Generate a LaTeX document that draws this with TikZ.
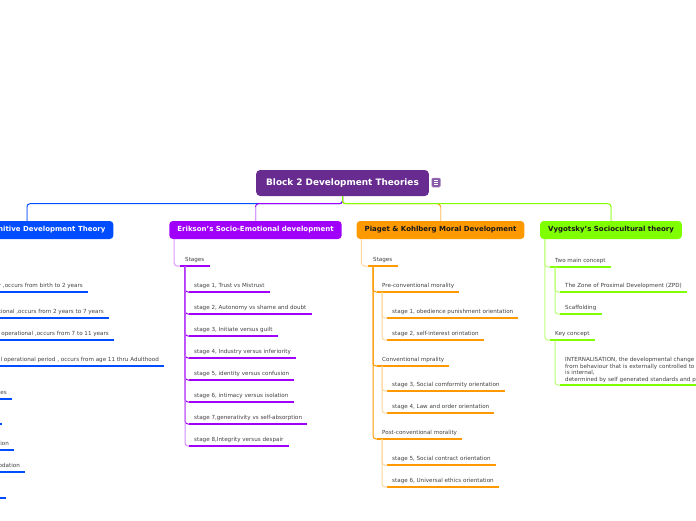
\documentclass[tikz,border=0pt]{standalone}
\usepackage{fontspec}
\setmainfont{DejaVu Sans}
\definecolor{cRoot}{RGB}{104,44,145}
\definecolor{cBlue}{RGB}{0,76,255}
\definecolor{cPur}{RGB}{160,0,250}
\definecolor{cOra}{RGB}{255,153,0}
\definecolor{cGre}{RGB}{128,255,0}
\definecolor{cTxt}{RGB}{64,64,64}
\tikzset{
  rootbox/.style={fill=cRoot, text=white, rounded corners=4pt, font=\bfseries\fontsize{8.9}{10}\selectfont, minimum height=26pt, inner xsep=10pt, inner ysep=0pt},
  mainbox/.style={rounded corners=3.5pt, font=\bfseries\fontsize{7}{8}\selectfont, minimum height=18pt, inner xsep=8pt, inner ysep=0pt},
  topic/.style={font=\fontsize{5.6}{6.7}\selectfont, text=cTxt, inner sep=0pt, anchor=base west},
  ul/.style={line width=2.2pt},
  topc/.style={line width=1pt, rounded corners=3pt},
  conn/.style={line width=1pt, rounded corners=3pt},
}
\newcommand\tp[5]{%
  \node[topic] (#1) at ({#2},{#3-5}) {#4};
  \coordinate (#1-ul) at ({#2-5},{#3});
  \coordinate (#1-v) at ({#2},{#3});
  \draw[ul,#5] (#1-ul) -- ([xshift=5pt,yshift=-5pt]#1.base east);
}
\newcommand\tpr[5]{%
  \node[topic, anchor=base east] (#1) at ({#2-5},{#3-5}) {#4};
  \coordinate (#1-ul) at (-20,{#3});
  \draw[ul,#5] (#1-ul) -- ({#2},{#3});
}
\begin{document}
\begin{tikzpicture}[x=1pt,y=-1pt]
\useasboundingbox (0,0) rectangle (696,520);
\clip (0,0) rectangle (696,520);

% root and main branches
\node[rootbox] (root) at (342.5,183) {Block 2 Development Theories};
\node[fill=cRoot!80!white, draw=cRoot!55!white, line width=0.5pt, rounded corners=1pt, minimum width=8.5pt, minimum height=9pt, inner sep=0pt] (note) at (436,182.5) {};
\foreach \dy in {-2.2,0,2.2}
  \draw[white, line width=0.6pt] ([xshift=-2.2pt,yshift=\dy pt]note.center) -- ([xshift=2.2pt,yshift=\dy pt]note.center);

\node[mainbox, fill=cBlue, text=white] (blue) at (27,230) {Piaget's Cognitive Development Theory};
\node[mainbox, fill=cPur, text=white] (purple) at (255.5,230) {Erikson's Socio-Emotional development};
\node[mainbox, fill=cOra, text=black!90] (orange) at (440.5,230) {Piaget \& Kohlberg Moral Development};
\node[mainbox, fill=cGre, text=black!90] (green) at (611,230) {Vygotsky's Sociocultural theory};

\draw[topc, cBlue] (root.south) -- ++(0,7.5) -| (blue.north);
\draw[line width=1pt, cBlue!50] (blue.north) -- ++(0,-14);
\draw[topc, cPur] (root.south) -- ++(0,7.5) -| (purple.north);
\draw[line width=1pt, cPur!40] (purple.north) -- ++(0,-14);
\draw[topc, cOra] (root.south) -- ++(0,7.5) -| (orange.north);
\draw[line width=1pt, cOra!45] (orange.north) -- ++(0,-14);
\draw[topc, cGre] (root.south) -- ++(0,7.5) -| (green.north);
\draw[line width=1pt, cGre!50] (green.north) -- ++(0,-14);

% ---- blue (Piaget cognitive), clipped at left edge
\tpr{b1}{88}{292}{Sensorimotor ,occurs from birth to 2 years}{cBlue}
\tpr{b2}{109}{318}{Preoperational ,occurs from 2 years to 7 years}{cBlue}
\tpr{b3}{114}{340}{Concrete operational ,occurs from 7 to 11 years}{cBlue}
\tpr{b4}{164}{366}{Formal operational period , occurs from age 11 thru Adulthood}{cBlue}
\tpr{b5}{12}{399}{Schemes}{cBlue}
\coordinate (b6-ul) at (-20,424);
\draw[ul,cBlue] (b6-ul) -- (1.5,424);
\tpr{b7}{14}{450}{Assimilation}{cBlue}
\tpr{b8}{25}{472}{Accommodation}{cBlue}
\coordinate (b9-ul) at (-20,498);
\draw[ul,cBlue] (b9-ul) -- (6,498);

% ---- purple (Erikson)
\tp{pstg}{185}{266}{Stages}{cPur}
\draw[conn, cPur!40] ([xshift=5pt]purple.south west) |- (pstg-ul);
\tp{ps1}{194}{292}{stage 1, Trust vs Mistrust}{cPur}
\tp{ps2}{194}{314}{stage 2, Autonomy vs shame and doubt}{cPur}
\tp{ps3}{194}{336}{stage 3, Initiate versus guilt}{cPur}
\tp{ps4}{194}{358}{stage 4, Industry versus inferiority}{cPur}
\tp{ps5}{194}{380}{stage 5, identity versus confusion}{cPur}
\tp{ps6}{194}{402}{stage 6, intimacy versus isolation}{cPur}
\tp{ps7}{194}{424}{stage 7,generativity vs self-absorption}{cPur}
\tp{ps8}{194}{446}{stage 8,Integrity versus despair}{cPur}
\foreach \c in {ps1,ps2,ps3,ps4,ps5,ps6,ps7}
  \draw[conn, cPur] (pstg-v) |- (\c-ul);
\draw[conn, cPur!45] (pstg-v) |- (ps8-ul);

% ---- orange (Piaget & Kohlberg)
\tp{ostg}{373}{266}{Stages}{cOra}
\draw[conn, cOra!40] ([xshift=5pt]orange.south west) |- (ostg-ul);
\tp{opre}{382}{292}{Pre-conventional morality}{cOra}
\tp{o1}{392}{318}{stage 1, obedience punishment orientation}{cOra}
\tp{o2}{392}{340}{stage 2, self-interest orintation}{cOra}
\tp{oconv}{382}{366}{Conventional mprality}{cOra}
\tp{o3}{392}{391}{stage 3, Social comformity orientation}{cOra}
\tp{o4}{392}{413}{stage 4, Law and order orientation}{cOra}
\tp{opost}{382}{439}{Post-conventional morality}{cOra}
\tp{o5}{392}{465}{stage 5, Social contract orientation}{cOra}
\tp{o6}{392}{487}{stage 6, Universal ethics orientation}{cOra}
\foreach \c in {opre,oconv,opost}
  \draw[conn, cOra] (ostg-v) |- (\c-ul);
\foreach \p/\c in {opre/o1,opre/o2,oconv/o3,oconv/o4,opost/o5,opost/o6}
  \draw[conn, cOra!40] (\p-v) |- (\c-ul);

% ---- green (Vygotsky)
\tp{gtwo}{555}{267}{Two main concept}{cGre}
\tp{gzpd}{565}{292}{The Zone of Proximal Development (ZPD)}{cGre}
\tp{gscaf}{565}{314}{Scaffolding}{cGre}
\tp{gkey}{555}{340}{Key concept}{cGre}
\node[topic, anchor=south west, align=left] (gint) at (565,383)
  {INTERNALISATION, the developmental change\\from behaviour that is externally controlled to behaviour that\\is internal,\\determined by self generated standards and principles};
\coordinate (gint-ul) at (560,385);
\draw[ul,cGre] (gint-ul) -- (700,385);
\foreach \c in {gtwo,gkey}
  \draw[conn, cGre!50] ([xshift=5pt]green.south west) |- (\c-ul);
\foreach \p/\c in {gtwo/gzpd,gtwo/gscaf,gkey/gint}
  \draw[conn, cGre!55] (\p-v) |- (\c-ul);
\end{tikzpicture}
\end{document}
